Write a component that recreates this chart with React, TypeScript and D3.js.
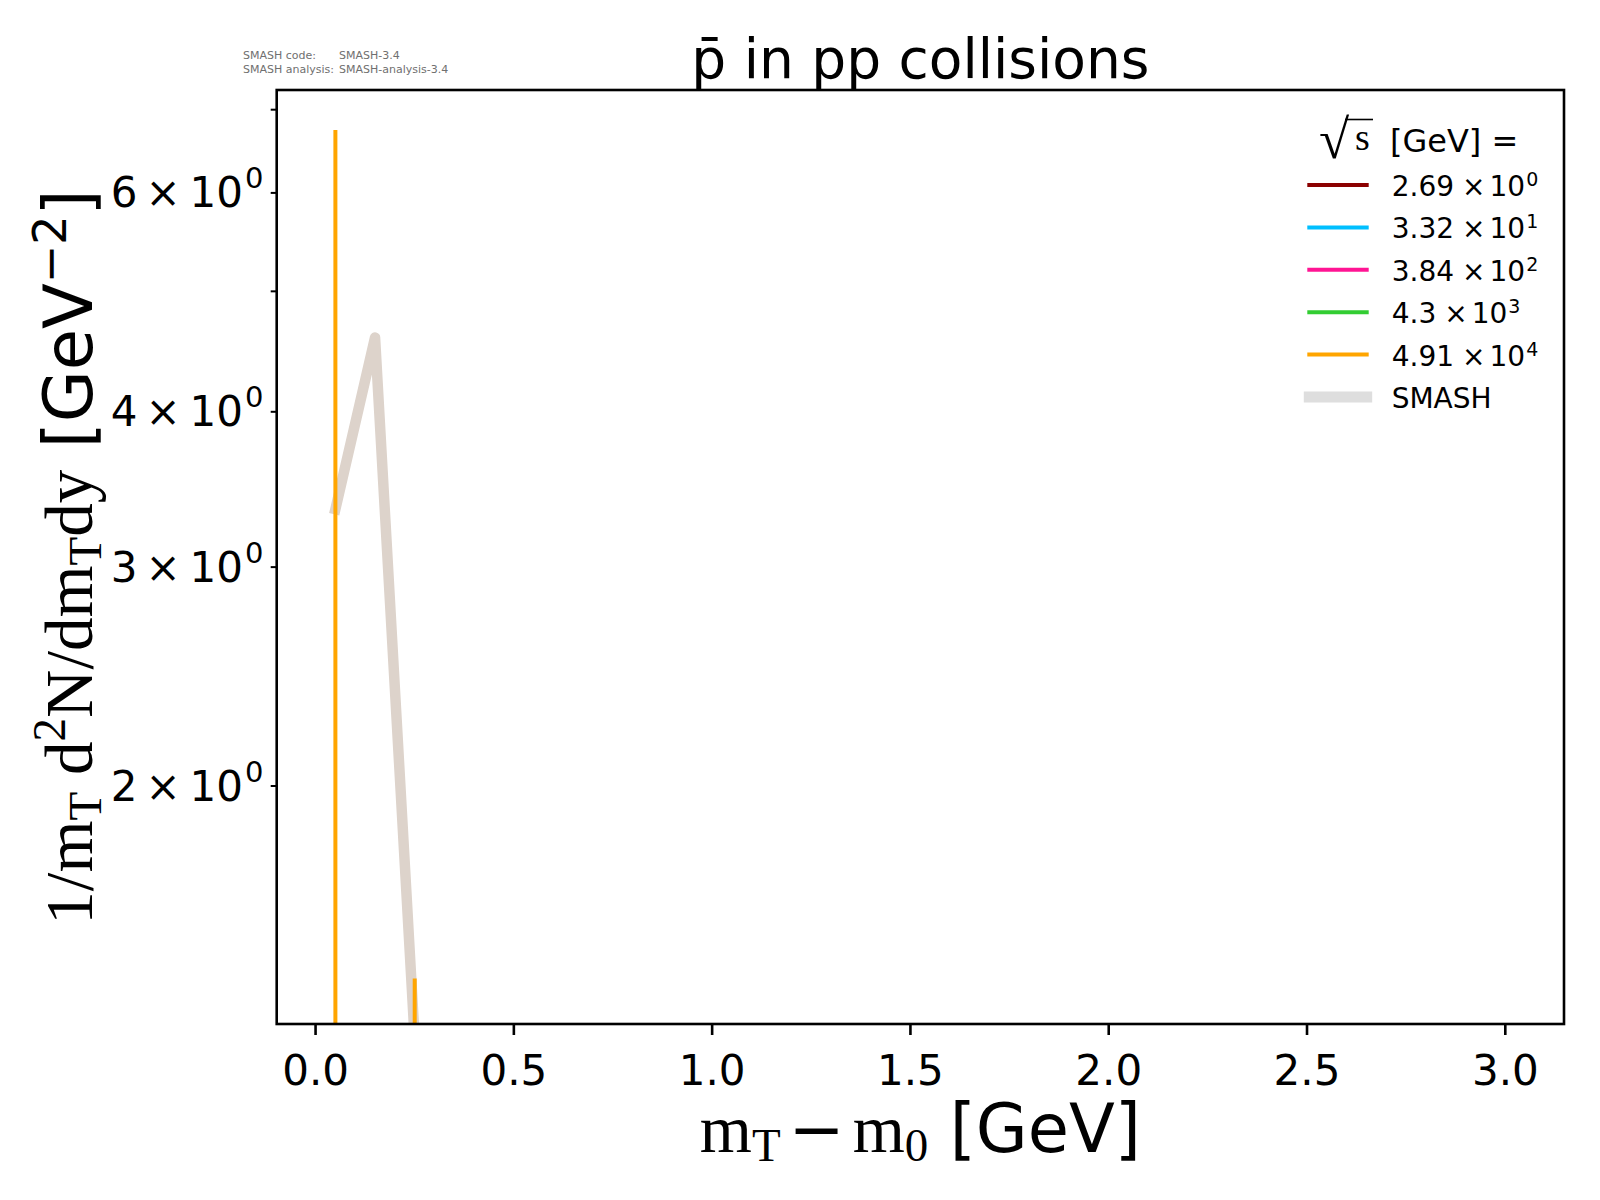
import { useRef, useEffect } from "react";
import * as d3 from "d3";

// sqrt(s) values of the data sets listed in the legend
const energyMantissa = ["2.69", "3.32", "3.84", "4.3", "4.91"];
const energyExponent = ["0", "1", "2", "3", "4"];
const energyColors = ["#8b0000", "#00bfff", "#ff1493", "#32cd32", "#ffa500"];

// SMASH curve
const smashX = [0.05, 0.15, 0.25];
const smashY = [3.34, 4.59, 1.25];

// measured points (only the 4.91e4 set shows up, as vertical error bars)
const expX = [0.05, 0.25];
const expHigh = [6.74, 1.4];
const expLow = [0.9, 0.9];

const xTicks = [0, 0.5, 1, 1.5, 2, 2.5, 3];
const yTicks = [2, 3, 4, 5, 6, 7];
const yTickLabels = ["2", "3", "4", "", "6", ""];

const SANS = "DejaVu Sans";
const SERIF = "Liberation Serif";

const Chart = () => {
    const svgRef = useRef<SVGSVGElement>(null);

    useEffect(() => {
        if (!svgRef.current) return;
        const svg = d3.select(svgRef.current);
        svg.selectAll("*").remove();

        const left = 276.7, right = 1564, top = 90, bottom = 1024;

        const x = d3.scaleLinear().domain([-0.098, 3.148]).range([left, right]);
        const y = d3.scaleLog().domain([1.287, 7.26]).range([bottom, top]);

        svg.append("rect").attr("width", 1600).attr("height", 1200).attr("fill", "white");

        svg.append("defs")
            .append("clipPath")
            .attr("id", "plotclip")
            .append("rect")
            .attr("x", left)
            .attr("y", top)
            .attr("width", right - left)
            .attr("height", bottom - top);

        const plot = svg.append("g").attr("clip-path", "url(#plotclip)");

        const line = d3
            .line<number>()
            .x((_, i) => x(smashX[i]))
            .y((d) => y(d));

        plot.append("path")
            .datum(smashY)
            .attr("d", line)
            .attr("fill", "none")
            .attr("stroke", "#ddd3cb")
            .attr("stroke-width", 10.5)
            .attr("stroke-linecap", "square")
            .attr("stroke-linejoin", "round");

        plot.selectAll(".err")
            .data(expX)
            .enter()
            .append("line")
            .attr("x1", (d) => x(d))
            .attr("x2", (d) => x(d))
            .attr("y1", (_, i) => y(expLow[i]))
            .attr("y2", (_, i) => y(expHigh[i]))
            .attr("stroke", "#ffa500")
            .attr("stroke-width", 4);

        // frame
        svg.append("rect")
            .attr("x", left)
            .attr("y", top)
            .attr("width", right - left)
            .attr("height", bottom - top)
            .attr("fill", "none")
            .attr("stroke", "black")
            .attr("stroke-width", 2.6);

        // x ticks
        const xg = svg.append("g");
        xg.selectAll("line")
            .data(xTicks)
            .enter()
            .append("line")
            .attr("x1", (d) => x(d))
            .attr("x2", (d) => x(d))
            .attr("y1", bottom)
            .attr("y2", bottom + 11)
            .attr("stroke", "black")
            .attr("stroke-width", 2.6);
        xg.selectAll("text")
            .data(xTicks)
            .enter()
            .append("text")
            .attr("x", (d) => x(d))
            .attr("y", 1085)
            .attr("text-anchor", "middle")
            .attr("font-family", SANS)
            .attr("font-size", 42)
            .text((d) => d.toFixed(1));

        // y ticks (minor ticks of the log axis)
        const yg = svg.append("g");
        yg.selectAll("line")
            .data(yTicks)
            .enter()
            .append("line")
            .attr("x1", left)
            .attr("x2", left - 6)
            .attr("y1", (d) => y(d))
            .attr("y2", (d) => y(d))
            .attr("stroke", "black")
            .attr("stroke-width", 2);
        yTicks.forEach((v, i) => {
            if (!yTickLabels[i]) return;
            const t = yg.append("text")
                .attr("x", 263.5)
                .attr("y", y(v) + 14.5)
                .attr("text-anchor", "end")
                .attr("font-family", SANS)
                .attr("font-size", 42);
            t.append("tspan").text(yTickLabels[i]);
            t.append("tspan").attr("dx", 8).text("×");
            t.append("tspan").attr("dx", 9).text("10");
            t.append("tspan").attr("dx", 2).attr("dy", -19).attr("font-size", 29).text("0");
        });

        // title
        svg.append("text")
            .attr("x", (left + right) / 2)
            .attr("y", 78)
            .attr("text-anchor", "middle")
            .attr("font-family", SANS)
            .attr("font-size", 55)
            .text("p\u0304 in pp collisions");

        // version notes
        const notes = svg.append("g")
            .attr("font-family", SANS)
            .attr("font-size", 11)
            .attr("fill", "#707070");
        notes.append("text").attr("x", 243).attr("y", 59).text("SMASH code:");
        notes.append("text").attr("x", 339).attr("y", 59).text("SMASH-3.4");
        notes.append("text").attr("x", 243).attr("y", 72.5).text("SMASH analysis:");
        notes.append("text").attr("x", 339).attr("y", 72.5).text("SMASH-analysis-3.4");

        // x label
        const xl = svg.append("text")
            .attr("x", (left + right) / 2)
            .attr("y", 1152)
            .attr("text-anchor", "middle")
            .attr("font-size", 67);
        xl.append("tspan").attr("font-family", SERIF).text("m");
        xl.append("tspan").attr("font-family", SERIF).attr("font-size", 47).attr("dy", 9).text("T");
        xl.append("tspan").attr("font-family", SANS).attr("dx", 8).attr("dy", -9).text("\u2212");
        xl.append("tspan").attr("font-family", SERIF).attr("dx", 8).text("m");
        xl.append("tspan").attr("font-family", SERIF).attr("font-size", 47).attr("dy", 9).text("0");
        xl.append("tspan").attr("font-family", SANS).attr("dy", -9).text("\u00a0[GeV]");

        // y label
        const cy = (top + bottom) / 2;
        const yl = svg.append("text")
            .attr("x", 92)
            .attr("y", cy)
            .attr("transform", `rotate(-90, 92, ${cy})`)
            .attr("text-anchor", "middle")
            .attr("font-size", 67);
        yl.append("tspan").attr("font-family", SERIF).text("1/m");
        yl.append("tspan").attr("font-family", SERIF).attr("font-size", 47).attr("dy", 9).text("T");
        yl.append("tspan").attr("font-family", SERIF).attr("dy", -9).text("\u00a0d");
        yl.append("tspan").attr("font-family", SERIF).attr("font-size", 47).attr("dy", -27).text("2");
        yl.append("tspan").attr("font-family", SERIF).attr("dy", 27).text("N/dm");
        yl.append("tspan").attr("font-family", SERIF).attr("font-size", 47).attr("dy", 9).text("T");
        yl.append("tspan").attr("font-family", SERIF).attr("dy", -9).text("dy");
        yl.append("tspan").attr("font-family", SANS).text("\u00a0[GeV");
        yl.append("tspan").attr("font-family", SANS).attr("font-size", 46).attr("dy", -26).text("\u22122");
        yl.append("tspan").attr("font-family", SANS).attr("dy", 26).text("]");

        // legend
        const lg = svg.append("g");
        // title: sqrt(s) [GeV] =
        lg.append("text")
            .attr("x", 1319)
            .attr("y", 158)
            .attr("font-family", SERIF)
            .attr("font-size", 55)
            .text("\u221a");
        lg.append("line")
            .attr("x1", 1345)
            .attr("x2", 1373)
            .attr("y1", 119.5)
            .attr("y2", 119.5)
            .attr("stroke", "black")
            .attr("stroke-width", 1.6);
        lg.append("text")
            .attr("x", 1355)
            .attr("y", 150)
            .attr("font-family", SERIF)
            .attr("font-size", 38)
            .text("s");
        lg.append("text")
            .attr("x", 1390)
            .attr("y", 151.7)
            .attr("font-family", SANS)
            .attr("font-size", 32)
            .text("[GeV] =");

        const rowY = (i: number) => 185 + i * 42.4;
        energyMantissa.forEach((m, i) => {
            lg.append("line")
                .attr("x1", 1309.3)
                .attr("x2", 1366.7)
                .attr("y1", rowY(i))
                .attr("y2", rowY(i))
                .attr("stroke", energyColors[i])
                .attr("stroke-width", 4)
                .attr("stroke-linecap", "square");
            const t = lg.append("text")
                .attr("x", 1391.7)
                .attr("y", rowY(i) + 11)
                .attr("font-family", SANS)
                .attr("font-size", 28);
            t.append("tspan").text(m);
            t.append("tspan").attr("dx", 8).text("×");
            t.append("tspan").attr("dx", 4).text("10");
            t.append("tspan").attr("dx", 1).attr("dy", -10).attr("font-size", 19).text(energyExponent[i]);
        });
        const si = energyMantissa.length;
        lg.append("line")
            .attr("x1", 1309.3)
            .attr("x2", 1366.7)
            .attr("y1", rowY(si))
            .attr("y2", rowY(si))
            .attr("stroke", "#dedede")
            .attr("stroke-width", 11)
            .attr("stroke-linecap", "square");
        lg.append("text")
            .attr("x", 1391.7)
            .attr("y", rowY(si) + 11)
            .attr("font-family", SANS)
            .attr("font-size", 28)
            .text("SMASH");
    }, []);

    return (
        <svg
            ref={svgRef}
            width={1600}
            height={1200}
            style={{ position: "absolute", left: 0, top: 0 }}
        />
    );
};

export default function App() {
    return <Chart />;
}
